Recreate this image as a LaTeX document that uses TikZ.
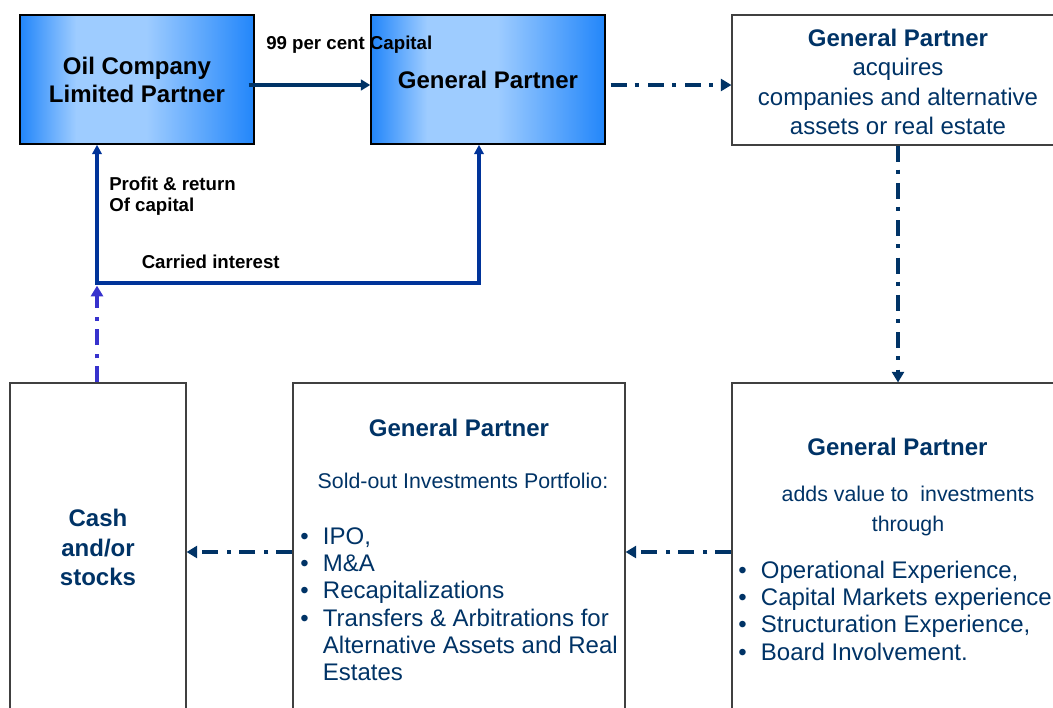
\documentclass[tikz,border=0pt]{standalone}
\usepackage{fontspec}
\setmainfont{Liberation Sans}
\usetikzlibrary{arrows.meta}

\definecolor{navy}{RGB}{0,51,102}
\definecolor{flowblue}{RGB}{0,51,153}
\definecolor{cashblue}{RGB}{55,50,205}
\definecolor{edgeblue}{RGB}{34,134,250}
\definecolor{paleblue}{RGB}{158,204,255}
\pgfdeclarehorizontalshading{partnershade}{100bp}{color(0bp)=(edgeblue); color(25bp)=(edgeblue); color(37bp)=(paleblue); color(52bp)=(paleblue); color(75bp)=(edgeblue); color(100bp)=(edgeblue)}

\newcommand{\bul}{\makebox[17pt][l]{\textbullet}}
\newcommand{\ind}{\hspace*{17pt}}

\begin{document}
\begin{tikzpicture}[x=0.75pt, y=-0.75pt, line join=miter,
    partner/.style={draw=black, line width=1.1pt, shading=partnershade, inner sep=0pt,
        minimum width=175.5pt, minimum height=96.75pt, align=center,
        font=\fontsize{18}{21}\selectfont\bfseries},
    plain box/.style={draw=black!75, line width=0.8pt, fill=white, inner sep=0pt,
        minimum width=249pt, align=center, text=navy},
    title/.style={inner sep=0pt, text=navy, font=\fontsize{18}{22}\selectfont\bfseries},
    note/.style={inner sep=0pt, text=navy, font=\fontsize{16}{22.5}\selectfont},
    items/.style={inner sep=0pt, text=navy, font=\fontsize{18}{20.5}\selectfont},
    flow label/.style={inner sep=0pt, font=\fontsize{14}{15.75}\selectfont\bfseries},
    dashflow/.style={navy, line width=3pt, dash pattern=on 12pt off 6pt on 3pt off 7pt,
        -{Triangle[length=8pt,width=9pt]}},
    capflow/.style={navy, line width=3pt, -{Triangle[length=7pt,width=8pt]}},
    retflow/.style={flowblue, line width=2.6pt, {Triangle[length=7pt,width=7pt]}-{Triangle[length=7pt,width=7pt]}},
    cashflow/.style={cashblue, line width=3pt, dash pattern=on 12pt off 6pt on 3pt off 7pt,
        -{Triangle[length=8pt,width=9pt]}}]

    \useasboundingbox (0,0) rectangle (1053,707);
    \clip (0,0) rectangle (1053,707);

    % top row
    \node[partner] (lp) at (137,79.5) {Oil Company\\Limited Partner};
    \node[partner] (gp) at (488,79.5) {General Partner};
    \node[plain box, minimum height=97.5pt, font=\fontsize{18}{22}\selectfont] (acq) at (898,80)
        {\rule{0pt}{16pt}\textbf{General Partner}\\acquires\\companies and alternative\\assets or real estate};

    % bottom row
    \node[plain box, minimum height=253.5pt] (add) at (898,552) {};
    \node[plain box, minimum height=253.5pt] (sold) at (459,552) {};
    \node[plain box, minimum width=132pt, minimum height=253.5pt] (cash) at (98,552) {};

    \node[title, anchor=base] (soldt) at (459,436) {General Partner};
    \node[note, anchor=base] (soldn) at (463,488) {Sold-out Investments Portfolio:};
    \node[items, anchor=base west] (soldl) at (300,544) {\begin{tabular}[t]{@{}l@{}}
        \bul IPO,\\ \bul M\&A\\ \bul Recapitalizations\\ \bul Transfers \& Arbitrations for\\
        \ind Alternative Assets and Real\\ \ind Estates\end{tabular}};

    \node[title, anchor=base] (addt) at (897.5,455) {General Partner};
    \node[note, anchor=base] (addn) at (908,501.7) {\begin{tabular}[t]{@{}c@{}}
        adds value to\ \ investments\\ through\end{tabular}};
    \node[items, anchor=base west] (addl) at (738,578.3) {\begin{tabular}[t]{@{}l@{}}
        \bul Operational Experience,\\ \bul Capital Markets experience\\
        \bul Structuration Experience,\\ \bul Board Involvement.\end{tabular}};

    \node[title, anchor=base] (casht) at (98,526.7) {\begin{tabular}[t]{@{}c@{}}
        Cash\\ and/or\\ stocks\end{tabular}};

    % flows
    \coordinate (jn) at (97,283);
    \coordinate (ci) at (479,283);
    \draw[capflow] ([shift={(-6,5.5)}]lp.east) -- ([shift={(0,5.5)}]gp.west);
    \draw[dashflow] ([shift={(5,5.5)}]gp.east) -- ([shift={(0,5)}]acq.west);
    \draw[dashflow] (acq.south) -- (add.north);
    \draw[dashflow] (add.west) -- (sold.east);
    \draw[dashflow] (sold.west) -- (cash.east);
    \draw[cashflow] (jn |- cash.north) -- ([yshift=-2pt]jn);
    \draw[retflow] (jn |- lp.south) -- (jn) -- (ci) -- (ci |- gp.south);

    \node[flow label, anchor=base west] (capl) at (266,49) {99 per cent Capital};
    \node[flow label, anchor=base west, align=left] (profl) at (109,211) {Profit \& return\\Of capital};
    \node[flow label, anchor=base west] (carl) at (141.5,268) {Carried interest};
\end{tikzpicture}
\end{document}
